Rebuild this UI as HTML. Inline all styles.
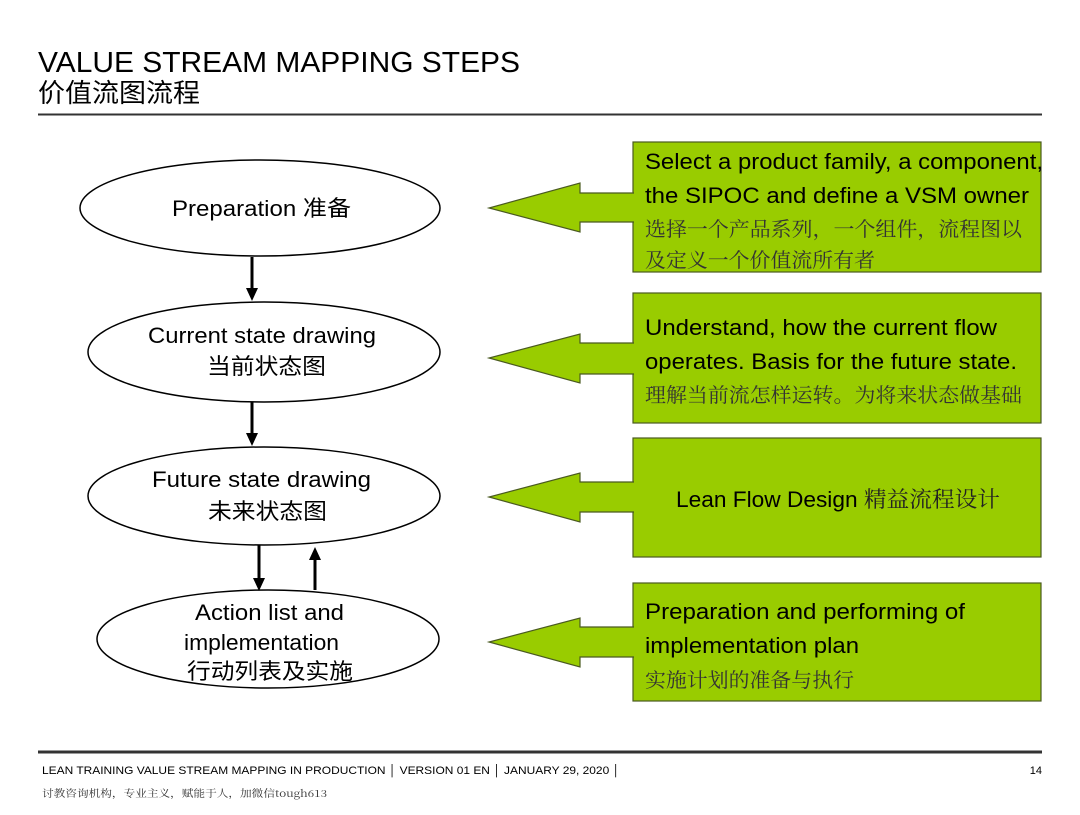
<!DOCTYPE html>
<html><head><meta charset="utf-8"><style>
body{margin:0;background:#fff;}
svg text{font-family:"Liberation Sans","Noto Sans CJK SC",sans-serif;}
.cn{font-family:"Noto Serif CJK SC","Noto Sans CJK SC",serif !important;}
</style></head><body>
<svg width="1080" height="810" viewBox="0 0 1080 810" xmlns="http://www.w3.org/2000/svg">
<rect width="1080" height="810" fill="#fff"/>
<text x="38" y="72" font-size="29" fill="#000" textLength="482" lengthAdjust="spacingAndGlyphs">VALUE STREAM MAPPING STEPS</text>
<text x="38" y="102" font-size="26" fill="#000" textLength="162" lengthAdjust="spacingAndGlyphs">价值流图流程</text>
<line x1="38" y1="114.5" x2="1042" y2="114.5" stroke="#333" stroke-width="2"/>

<g fill="#fff" stroke="#000" stroke-width="1.5">
<ellipse cx="260" cy="208" rx="180" ry="48"/>
<ellipse cx="264" cy="352" rx="176" ry="50"/>
<ellipse cx="264" cy="496" rx="176" ry="49"/>
<ellipse cx="268" cy="639" rx="171" ry="49"/>
</g>
<g font-size="22" fill="#000" lengthAdjust="spacingAndGlyphs">
<text x="172" y="216" textLength="179" lengthAdjust="spacingAndGlyphs">Preparation 准备</text>
<text x="148" y="343" textLength="228" lengthAdjust="spacingAndGlyphs">Current state drawing</text>
<text x="207" y="374" textLength="119" lengthAdjust="spacingAndGlyphs">当前状态图</text>
<text x="152" y="487" textLength="219" lengthAdjust="spacingAndGlyphs">Future state drawing</text>
<text x="208" y="519" textLength="119" lengthAdjust="spacingAndGlyphs">未来状态图</text>
<text x="195" y="620" textLength="149" lengthAdjust="spacingAndGlyphs">Action list and</text>
<text x="184" y="650" textLength="155" lengthAdjust="spacingAndGlyphs">implementation</text>
<text x="187" y="679" textLength="166" lengthAdjust="spacingAndGlyphs">行动列表及实施</text>
</g>
<g stroke="#000" stroke-width="3">
<line x1="252" y1="257" x2="252" y2="290"/>
<line x1="252" y1="402" x2="252" y2="435"/>
<line x1="259" y1="545" x2="259" y2="580"/>
<line x1="315" y1="590" x2="315" y2="558"/>
</g>
<g fill="#000">
<polygon points="246,288 258,288 252,301"/>
<polygon points="246,433 258,433 252,446"/>
<polygon points="253,578 265,578 259,591"/>
<polygon points="309,560 321,560 315,547"/>
</g>

<g fill="#99cc00" stroke="#4a5a20" stroke-width="1.2">
<rect x="633" y="142" width="408" height="130"/>
<rect x="633" y="293" width="408" height="130"/>
<rect x="633" y="438" width="408" height="119"/>
<rect x="633" y="583" width="408" height="118"/>
<path d="M634,193 L580,193 L580,183 L489,208 L580,232 L580,222 L634,222"/>
<path d="M634,343 L580,343 L580,334 L489,358 L580,383 L580,374 L634,374"/>
<path d="M634,482 L580,482 L580,473 L489,497 L580,522 L580,512 L634,512"/>
<path d="M634,627 L580,627 L580,618 L489,642 L580,667 L580,657 L634,657"/>
</g>
<g font-size="22" fill="#000">
<text x="645" y="169" textLength="398" lengthAdjust="spacingAndGlyphs">Select a product family, a component,</text>
<text x="645" y="203" textLength="384" lengthAdjust="spacingAndGlyphs">the SIPOC and define a VSM owner</text>
<text x="645" y="335" textLength="352" lengthAdjust="spacingAndGlyphs">Understand, how the current flow</text>
<text x="645" y="369" textLength="372" lengthAdjust="spacingAndGlyphs">operates. Basis for the future state.</text>
<text x="676" y="507" textLength="324" lengthAdjust="spacingAndGlyphs">Lean Flow Design <tspan class="cn" fill="#222">精益流程设计</tspan></text>
<text x="645" y="619" textLength="320" lengthAdjust="spacingAndGlyphs">Preparation and performing of</text>
<text x="645" y="653" textLength="214" lengthAdjust="spacingAndGlyphs">implementation plan</text>
</g>
<g font-size="20" fill="#333">
<text x="645" y="236" class="cn" textLength="377" lengthAdjust="spacingAndGlyphs">选择一个产品系列，一个组件，流程图以</text>
<text x="645" y="267" class="cn" textLength="230" lengthAdjust="spacingAndGlyphs">及定义一个价值流所有者</text>
<text x="645" y="402" class="cn" textLength="377" lengthAdjust="spacingAndGlyphs">理解当前流怎样运转。为将来状态做基础</text>
<text x="645" y="687" class="cn" textLength="209" lengthAdjust="spacingAndGlyphs">实施计划的准备与执行</text>
</g>

<line x1="38" y1="752" x2="1042" y2="752" stroke="#333" stroke-width="3"/>
<text x="42" y="774" font-size="11" fill="#000" textLength="578" lengthAdjust="spacingAndGlyphs">LEAN TRAINING VALUE STREAM MAPPING IN PRODUCTION │ VERSION 01 EN │ JANUARY 29, 2020 │</text>
<text x="1042" y="774" font-size="11" fill="#000" text-anchor="end">14</text>
<text x="42" y="797" font-size="10" fill="#333" class="cn" textLength="285" lengthAdjust="spacingAndGlyphs">讨教咨询机构，专业主义，赋能于人，加微信tough613</text>
</svg>
</body></html>
